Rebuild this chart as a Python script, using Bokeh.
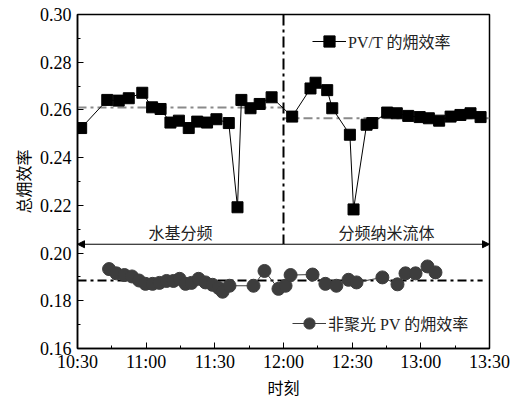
from bokeh.plotting import figure
from bokeh.models import (FixedTicker, Arrow, NormalHead, Label, Legend, LegendItem,
                          NumeralTickFormatter)
from bokeh.embed import file_html
from bokeh.resources import INLINE

# ---- data (minutes after 10:30) ----
pvt_time = [1.6, 13.0, 18.0, 22.4, 28.3, 32.6, 36.3, 40.6, 44.3, 48.6, 52.3, 56.6, 60.7,
            66.1, 69.9, 71.6, 75.6, 79.6, 84.8, 93.8, 101.8, 104.0, 109.1, 111.3, 119.0,
            120.6, 126.3, 128.8, 135.3, 139.5, 144.5, 149.5, 153.5, 158.0, 163.0, 167.3,
            171.7, 176.1]
pvt_eff = [0.2524, 0.2642, 0.2639, 0.2649, 0.2672, 0.2611, 0.2604, 0.2547, 0.2555, 0.2524,
           0.2551, 0.2547, 0.2561, 0.2545, 0.2192, 0.2642, 0.2607, 0.2625, 0.2653, 0.2572,
           0.2690, 0.2714, 0.2683, 0.2607, 0.2496, 0.2183, 0.2538, 0.2545, 0.2589, 0.2586,
           0.2575, 0.2570, 0.2565, 0.2555, 0.2572, 0.2579, 0.2586, 0.2570]

pv_time = [13.8, 17.0, 20.5, 23.8, 26.9, 29.7, 32.8, 35.8, 38.9, 41.9, 44.6, 47.2, 49.8,
           52.9, 55.9, 59.0, 61.6, 63.4, 66.4, 76.9, 81.7, 87.8, 90.9, 93.1, 102.7, 108.3,
           113.1, 118.4, 121.9, 133.2, 139.8, 143.3, 147.7, 152.9, 156.4]
pv_eff = [0.1933, 0.1915, 0.1908, 0.1902, 0.1885, 0.1871, 0.1871, 0.1875, 0.1883, 0.1883,
          0.1892, 0.1871, 0.1875, 0.1892, 0.1877, 0.1867, 0.1854, 0.1838, 0.1863, 0.1863,
          0.1925, 0.1850, 0.1863, 0.1908, 0.1910, 0.1871, 0.1863, 0.1888, 0.1877, 0.1898,
          0.1869, 0.1915, 0.1915, 0.1944, 0.1919]

split_time = 90          # 12:00
period_end = 180         # 13:30
mean_pvt_left = 0.2610
mean_pvt_right = 0.2565
mean_pv = 0.1885
mean_pv_end = 177
arrow_level = 0.2037
label_level = 0.2090

x_ticks = [0, 30, 60, 90, 120, 150, 180]
x_tick_labels = ["10:30", "11:00", "11:30", "12:00", "12:30", "13:00", "13:30"]
y_ticks = [0.16, 0.18, 0.20, 0.22, 0.24, 0.26, 0.28, 0.30]

LATIN = "Liberation Serif"
CJK = "Noto Sans CJK SC"

p = figure(width=519, height=401, x_range=(0, 180), y_range=(0.16, 0.30),
           output_backend="svg", toolbar_location=None,
           min_border_left=77, min_border_right=30, min_border_top=14, min_border_bottom=51)
p.background_fill_color = "white"
p.border_fill_color = "white"
p.grid.visible = False
p.outline_line_color = "black"
p.outline_line_width = 1.5

p.xaxis.ticker = FixedTicker(ticks=x_ticks, minor_ticks=[15, 45, 75, 105, 135, 165])
p.xaxis.major_label_overrides = {t: l for t, l in zip(x_ticks, x_tick_labels)}
p.yaxis.ticker = FixedTicker(ticks=y_ticks, minor_ticks=[0.17, 0.19, 0.21, 0.23, 0.25, 0.27, 0.29])
p.yaxis.formatter = NumeralTickFormatter(format="0.00")
for ax in (p.xaxis[0], p.yaxis[0]):
    ax.axis_line_color = "black"
    ax.axis_line_width = 1.5
    ax.major_tick_in = 6
    ax.major_tick_out = 0
    ax.minor_tick_in = 3
    ax.minor_tick_out = 0
    ax.major_tick_line_color = "black"
    ax.minor_tick_line_color = "black"
    ax.major_label_text_font = LATIN
    ax.major_label_text_font_size = "18px"
    ax.major_label_text_color = "black"
    ax.axis_label_text_font = CJK
    ax.axis_label_text_font_size = "16px"
    ax.axis_label_text_font_style = "normal"
    ax.axis_label_text_color = "black"
p.xaxis.axis_label = "时刻"
p.yaxis.axis_label = "总㶲效率"
p.xaxis.major_label_standoff = 3
p.yaxis.major_label_standoff = 6
p.xaxis.axis_label_standoff = 0
p.yaxis.axis_label_standoff = 2

# reference lines
p.segment(x0=[0], y0=[mean_pvt_left], x1=[split_time], y1=[mean_pvt_left],
          line_color="#8a8a8a", line_width=2, line_dash="9 4 3 4")
p.segment(x0=[split_time], y0=[mean_pvt_right], x1=[period_end], y1=[mean_pvt_right],
          line_color="#8a8a8a", line_width=2, line_dash="9 4 3 4")
p.segment(x0=[0], y0=[mean_pv], x1=[mean_pv_end], y1=[mean_pv],
          line_color="black", line_width=2, line_dash="9 4 3 4")
p.segment(x0=[split_time], y0=[0.30], x1=[split_time], y1=[arrow_level],
          line_color="black", line_width=2, line_dash="11 4 3 4")

# arrows
p.add_layout(Arrow(end=NormalHead(size=7, fill_color="black", line_color="black"),
                   x_start=split_time, y_start=arrow_level, x_end=0, y_end=arrow_level,
                   line_color="black", line_width=1))
p.add_layout(Arrow(end=NormalHead(size=7, fill_color="black", line_color="black"),
                   x_start=split_time, y_start=arrow_level, x_end=period_end, y_end=arrow_level,
                   line_color="black", line_width=1))
p.add_layout(Label(x=split_time / 2, y=label_level, text="水基分频", text_font=CJK,
                   text_font_size="16px", text_align="center", text_baseline="middle",
                   text_color="#222222"))
p.add_layout(Label(x=(split_time + period_end) / 2, y=label_level, text="分频纳米流体",
                   text_font=CJK, text_font_size="16px", text_align="center",
                   text_baseline="middle", text_color="#222222"))

# series
l1 = p.line(pvt_time, pvt_eff, line_color="black", line_width=1)
s1 = p.scatter(pvt_time, pvt_eff, marker="square", size=11, fill_color="black", line_color="black")
l2 = p.line(pv_time, pv_eff, line_color="#3d3d3d", line_width=1)
s2 = p.scatter(pv_time, pv_eff, marker="circle", size=13, fill_color="#3d3d3d", line_color="#3d3d3d")

def make_legend(label, renderers, loc):
    lg = Legend(items=[LegendItem(label=label, renderers=renderers)], location=loc,
                glyph_width=34, glyph_height=28, label_height=28, label_standoff=2,
                padding=0, margin=0, spacing=0, border_line_color=None,
                background_fill_alpha=0, label_text_font=LATIN + ", " + CJK,
                label_text_font_size="16px", label_text_color="#222222")
    return lg

p.add_layout(make_legend("PV/T 的㶲效率", [l1, s1], (235, 293)), "center")
p.add_layout(make_legend("非聚光 PV 的㶲效率", [l2, s2], (215, 11)), "center")

open("out.html", "w").write(file_html(p, INLINE))
